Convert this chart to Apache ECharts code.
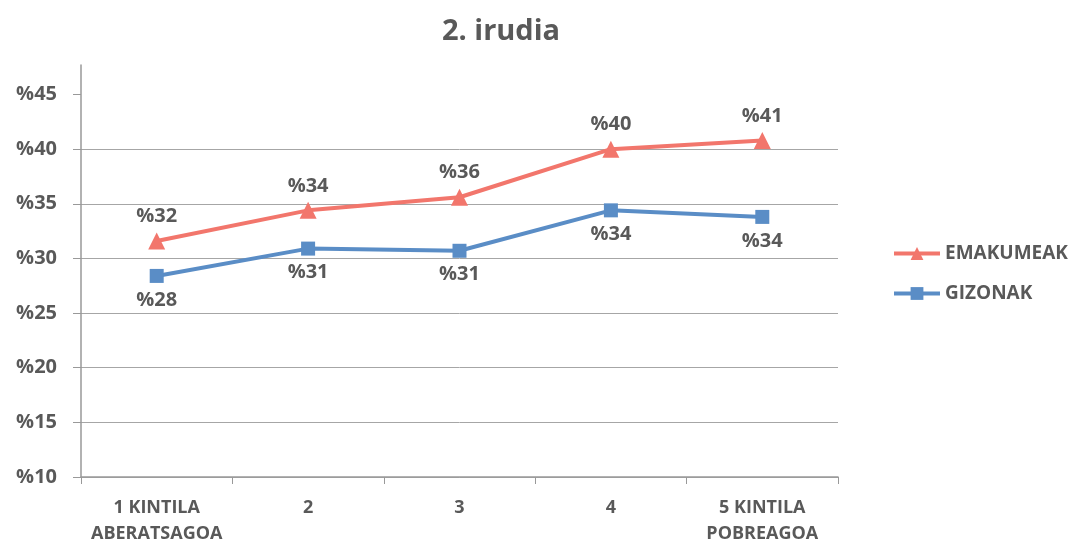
<!DOCTYPE html>
<html>
<head>
<meta charset="utf-8">
<script src="https://cdn.jsdelivr.net/npm/echarts@6/dist/echarts.min.js"></script>
<style>
  html, body { margin: 0; padding: 0; background: #fff; }
  #chart { width: 1068px; height: 547px; }
</style>
</head>
<body>
<div id="chart"></div>
<script>
// Quintile categories (richest to poorest)
const categories = ['1 KINTILA\nABERATSAGOA', '2', '3', '4', '5 KINTILA\nPOBREAGOA'];
// Share in percent, by sex
const emakumeak = [31.6, 34.4, 35.6, 40.0, 40.8];
const gizonak = [28.4, 30.9, 30.7, 34.4, 33.8];
// Y-axis tick values
const yTicks = [10, 15, 20, 25, 30, 35, 40, 45];

const textColor = '#595959';
const font = '"Open Sans", "Noto Sans", sans-serif';

const chart = echarts.init(document.getElementById('chart'));
chart.setOption({
  backgroundColor: '#ffffff',
  textStyle: { fontFamily: font },
  title: {
    text: '2. irudia',
    left: 496,
    textAlign: 'center',
    top: 12,
    textStyle: { fontSize: 29, fontWeight: 700, color: textColor, fontFamily: font }
  },
  legend: {
    orient: 'vertical',
    left: 887,
    top: 239,
    itemGap: 21,
    itemWidth: 46,
    itemHeight: 16,
    lineStyle: { width: 4 },
    textStyle: { fontSize: 19, fontWeight: 700, color: textColor, fontFamily: font },
    data: ['EMAKUMEAK', 'GIZONAK']
  },
  grid: { left: 81, right: 230, top: 65, bottom: 65, containLabel: false },
  xAxis: {
    type: 'category',
    data: categories,
    boundaryGap: true,
    axisLine: { lineStyle: { color: '#999999', width: 1.5 } },
    axisTick: { show: true, length: 7, lineStyle: { color: '#999999' } },
    axisLabel: {
      color: textColor, fontSize: 18, fontWeight: 700, fontFamily: font,
      margin: 18, lineHeight: 26, interval: 0
    }
  },
  yAxis: {
    type: 'value',
    min: 10,
    max: 47.7,
    interval: 5,
    axisLine: { show: true, lineStyle: { color: '#999999', width: 1.5 } },
    axisTick: { show: true, length: 8, lineStyle: { color: '#999999' }, customValues: yTicks },
    axisLabel: {
      color: textColor, fontSize: 20, fontWeight: 700, fontFamily: font, margin: 24,
      customValues: yTicks,
      formatter: v => '%' + v
    },
    splitLine: { show: true, showMaxLine: false, lineStyle: { color: '#a6a6a6', width: 1 } }
  },
  series: [
    {
      name: 'EMAKUMEAK',
      type: 'line',
      data: emakumeak,
      symbol: 'triangle',
      symbolSize: 17,
      color: '#F2766C',
      lineStyle: { width: 4, color: '#F2766C' },
      itemStyle: { color: '#F2766C' },
      label: {
        show: true, position: 'top', distance: 6,
        color: textColor, fontSize: 20, fontWeight: 700, fontFamily: font,
        formatter: p => '%' + Math.round(p.value)
      },
      animation: false
    },
    {
      name: 'GIZONAK',
      type: 'line',
      data: gizonak,
      symbol: 'rect',
      symbolSize: 14,
      color: '#5A8DC6',
      lineStyle: { width: 4, color: '#5A8DC6' },
      itemStyle: { color: '#5A8DC6' },
      label: {
        show: true, position: 'bottom', distance: 7,
        color: textColor, fontSize: 20, fontWeight: 700, fontFamily: font,
        formatter: p => '%' + Math.round(p.value)
      },
      animation: false
    }
  ]
});
</script>
</body>
</html>
